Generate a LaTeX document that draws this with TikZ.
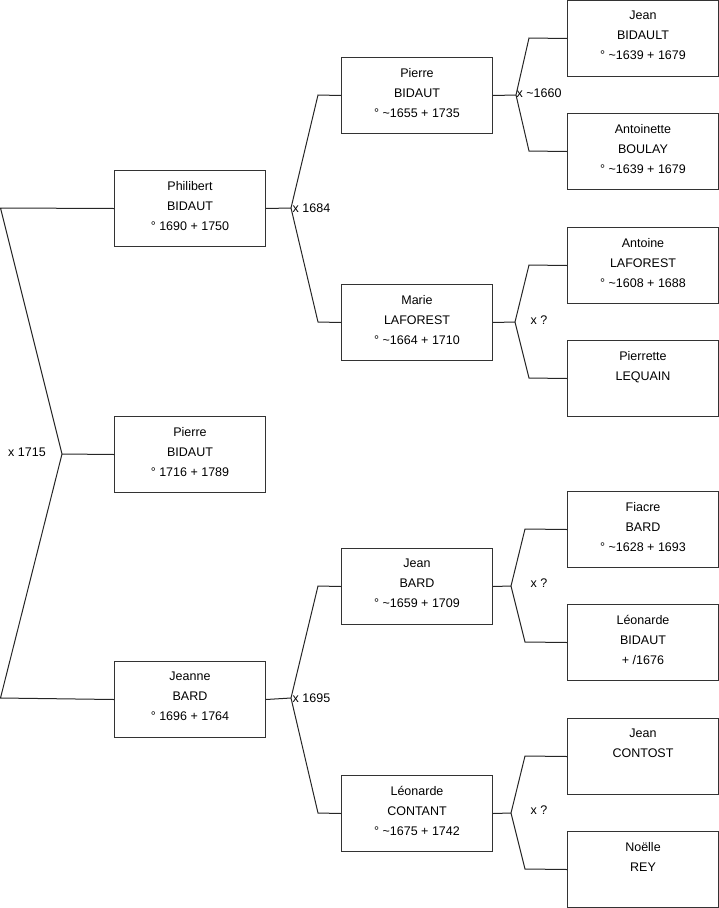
\documentclass[tikz,border=0pt]{standalone}
\usepackage{fontspec}
\setmainfont{Liberation Sans}
\newcommand\mydn{\rule[-6pt]{0pt}{6pt}}
\begin{document}
\begin{tikzpicture}[x=1pt,y=-1pt,
  person/.style={draw=black!80, line width=1pt, anchor=north west, inner sep=0pt,
    minimum width=151pt, minimum height=76pt, align=center,
    font=\fontsize{12.5}{20}\selectfont},
  lbl/.style={inner sep=0pt, font=\fontsize{12.5}{14}\selectfont},
  link/.style={draw=black!85, line width=1pt}]
\useasboundingbox (0,0) rectangle (719,908);
% generation 1
\node[person] (phil) at (114,170) {Philibert\\BIDAUT\\° 1690 + 1750\mydn};
\node[person] (pierre) at (114,416) {Pierre\\BIDAUT\\° 1716 + 1789\mydn};
\node[person] (jeanne) at (114,661) {Jeanne\\BARD\\° 1696 + 1764\mydn};
% generation 2
\node[person] (pb) at (341,57) {Pierre\\BIDAUT\\° \textasciitilde1655 + 1735\mydn};
\node[person] (marie) at (341,284) {Marie\\LAFOREST\\° \textasciitilde1664 + 1710\mydn};
\node[person] (jb) at (341,548) {Jean\\BARD\\° \textasciitilde1659 + 1709\mydn};
\node[person] (lc) at (341,775) {Léonarde\\CONTANT\\° \textasciitilde1675 + 1742\mydn};
% generation 3
\node[person] (jbt) at (567,0) {Jean\\BIDAULT\\° \textasciitilde1639 + 1679\mydn};
\node[person] (ab) at (567,113) {Antoinette\\BOULAY\\° \textasciitilde1639 + 1679\mydn};
\node[person] (al) at (567,227) {Antoine\\LAFOREST\\° \textasciitilde1608 + 1688\mydn};
\node[person] (pl) at (567,340) {Pierrette\\LEQUAIN\\\strut\mydn};
\node[person] (fb) at (567,491) {Fiacre\\BARD\\° \textasciitilde1628 + 1693\mydn};
\node[person] (lb) at (567,604) {Léonarde\\BIDAUT\\+ /1676\mydn};
\node[person] (jc) at (567,718) {Jean\\CONTOST\\\strut\mydn};
\node[person] (nr) at (567,831) {Noëlle\\REY\\\strut\mydn};
% fork points
\coordinate (r1) at (0.5,208);
\coordinate (r2) at (62,454);
\coordinate (r3) at (0.5,698);
\coordinate (a0) at (291,208);
\coordinate (a1) at (318,95);
\coordinate (a2) at (318,322);
\coordinate (b0) at (291,698);
\coordinate (b1) at (318,586);
\coordinate (b2) at (318,813);
\coordinate (c0) at (516,95);
\coordinate (c1) at (529,38);
\coordinate (c2) at (529,151);
\coordinate (d0) at (515,322);
\coordinate (d1) at (529,265);
\coordinate (d2) at (529,378);
\coordinate (e0) at (511,586);
\coordinate (e1) at (525,529);
\coordinate (e2) at (525,642);
\coordinate (f0) at (511,813);
\coordinate (f1) at (525,756);
\coordinate (f2) at (525,869);
% connectors
\draw[link] (phil.west) -- (r1) -- (r2) -- (r3) -- (jeanne.west);
\draw[link] (r2) -- (pierre.west);
\draw[link] (phil.east) -- (a0);
\draw[link] (pb.west) -- (a1) -- (a0) -- (a2) -- (marie.west);
\draw[link] (jeanne.east) -- (b0);
\draw[link] (jb.west) -- (b1) -- (b0) -- (b2) -- (lc.west);
\draw[link] (pb.east) -- (c0);
\draw[link] (jbt.west) -- (c1) -- (c0) -- (c2) -- (ab.west);
\draw[link] (marie.east) -- (d0);
\draw[link] (al.west) -- (d1) -- (d0) -- (d2) -- (pl.west);
\draw[link] (jb.east) -- (e0);
\draw[link] (fb.west) -- (e1) -- (e0) -- (e2) -- (lb.west);
\draw[link] (lc.east) -- (f0);
\draw[link] (jc.west) -- (f1) -- (f0) -- (f2) -- (nr.west);
% marriage labels
\node[lbl] (m0) at (27,452) {x 1715};
\node[lbl, anchor=west] (m1) at (292.5,208) {x 1684};
\node[lbl, anchor=west] (m2) at (292.5,698) {x 1695};
\node[lbl, anchor=west] (m3) at (516.5,93) {x \textasciitilde1660};
\node[lbl] (m4) at (539,320) {x ?};
\node[lbl] (m5) at (539,583) {x ?};
\node[lbl] (m6) at (539,810) {x ?};
\end{tikzpicture}
\end{document}
